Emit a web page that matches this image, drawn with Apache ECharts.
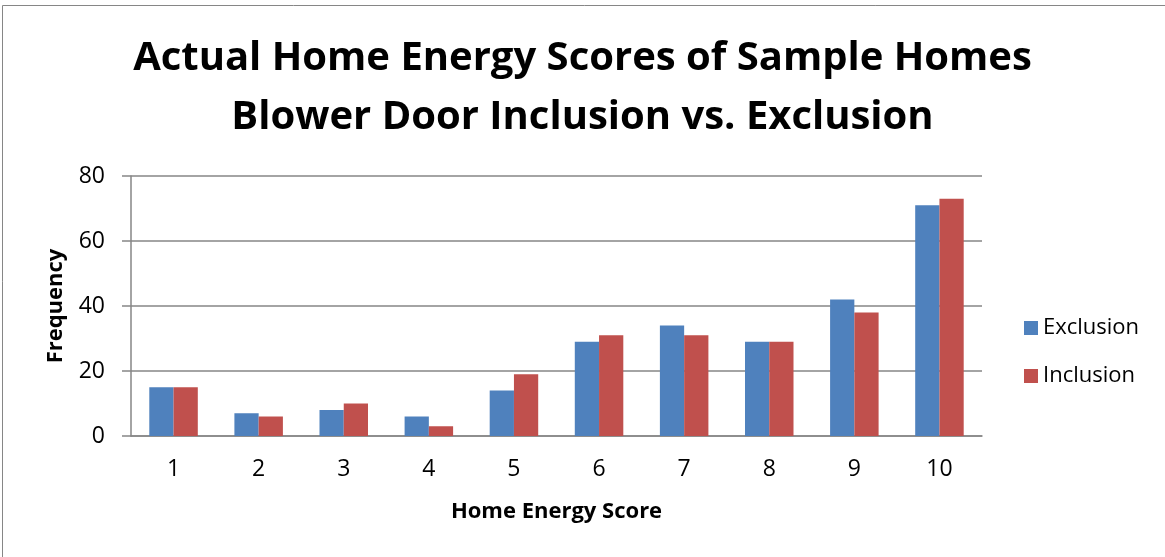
<!DOCTYPE html>
<html>
<head>
<meta charset="utf-8">
<script src="https://cdn.jsdelivr.net/npm/echarts@6/dist/echarts.min.js"></script>
<style>
  html, body { margin: 0; padding: 0; background: #fff; }
  #main-chart { width: 1165px; height: 557px; }
</style>
</head>
<body>
<div id="main-chart"></div>
<script>
const scores = ['1', '2', '3', '4', '5', '6', '7', '8', '9', '10'];
const exclusion = [15, 7, 8, 6, 14, 29, 34, 29, 42, 71];
const inclusion = [15, 6, 10, 3, 19, 31, 31, 29, 38, 73];
const yTicks = [0, 20, 40, 60, 80];

const chart = echarts.init(document.getElementById('main-chart'));
const gray = '#868686';
const font = '"Open Sans", Lato, sans-serif';

chart.setOption({
    animation: false,
    textStyle: { fontFamily: font },
    graphic: [{
        type: 'rect',
        shape: { x: 2.5, y: 5.5, width: 1300, height: 700 },
        style: { fill: 'none', stroke: gray, lineWidth: 1 },
        silent: true
    }],
    title: {
        text: 'Actual Home Energy Scores of Sample Homes\nBlower Door Inclusion vs. Exclusion',
        left: 'center',
        top: 29,
        padding: [0, 0, 0, 24],
        textStyle: {
            fontFamily: font,
            fontWeight: 'bold',
            fontSize: 40,
            lineHeight: 59,
            color: '#000'
        }
    },
    legend: {
        orient: 'vertical',
        left: 1019,
        top: 312,
        itemWidth: 14,
        itemHeight: 14,
        itemGap: 26,
        icon: 'rect',
        textStyle: { fontFamily: font, fontSize: 22, color: '#000', padding: [0, 0, 0, 0] },
        data: ['Exclusion', 'Inclusion']
    },
    grid: { left: 131, right: 183, top: 176, bottom: 121 },
    xAxis: {
        type: 'category',
        data: scores,
        name: 'Home Energy Score',
        nameLocation: 'middle',
        nameGap: 65,
        nameTextStyle: { fontFamily: font, fontWeight: 'bold', fontSize: 22, color: '#000' },
        axisLine: { lineStyle: { color: gray, width: 1.5 } },
        axisTick: { show: false },
        axisLabel: { fontFamily: font, fontSize: 23, color: '#000', margin: 22 }
    },
    yAxis: {
        type: 'value',
        min: yTicks[0],
        max: yTicks[yTicks.length - 1],
        interval: yTicks[1] - yTicks[0],
        name: 'Frequency',
        nameLocation: 'middle',
        nameGap: 64,
        nameTextStyle: { fontFamily: font, fontWeight: 'bold', fontSize: 22, color: '#000' },
        axisLine: { show: true, lineStyle: { color: gray, width: 1.5 } },
        axisTick: { show: true, length: 9, lineStyle: { color: gray, width: 1.5 } },
        splitLine: { lineStyle: { color: gray, width: 1.5 } },
        axisLabel: { fontFamily: font, fontSize: 23, color: '#000', margin: 26 }
    },
    series: [
        {
            name: 'Exclusion',
            type: 'bar',
            data: exclusion,
            barGap: '0%',
            barCategoryGap: '43%',
            itemStyle: { color: '#4F81BD' }
        },
        {
            name: 'Inclusion',
            type: 'bar',
            data: inclusion,
            itemStyle: { color: '#C0504D' }
        }
    ]
});
</script>
</body>
</html>
